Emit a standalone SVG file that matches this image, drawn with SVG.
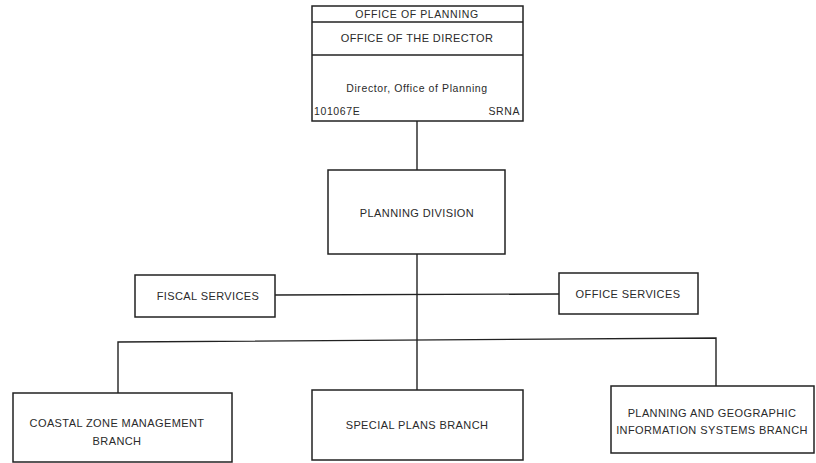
<svg xmlns="http://www.w3.org/2000/svg" width="816" height="463" viewBox="0 0 816 463">
<style>
.box{fill:#fff;stroke:#222;stroke-width:1.5}
.ln{fill:none;stroke:#222;stroke-width:1.4}
text{font-family:"Liberation Sans",Arial,sans-serif;fill:#2a2a2a;text-anchor:middle;dominant-baseline:central}
.t{font-size:11px;letter-spacing:0.4px}
.s{font-size:10.5px;letter-spacing:0.6px}
</style>
<rect width="816" height="463" fill="#fff"/>
<g id="connectors">
<line class="ln" x1="417" y1="121" x2="417" y2="170"/>
<line class="ln" x1="417" y1="254" x2="417" y2="390"/>
<line class="ln" x1="275" y1="295" x2="559" y2="294"/>
<polyline class="ln" points="118,393 118,342 716,338 716,386"/>
</g>
<g id="office-of-planning">
<rect class="box" x="312" y="6" width="211" height="115"/>
<line class="ln" x1="312" y1="22" x2="523" y2="22"/>
<line class="ln" x1="312" y1="55" x2="523" y2="55"/>
<text class="s" x="417" y="14">OFFICE OF PLANNING</text>
<text class="t" x="417" y="38">OFFICE OF THE DIRECTOR</text>
<text class="s" x="417" y="88">Director, Office of Planning</text>
<text class="s" x="314" y="111" style="text-anchor:start">101067E</text>
<text class="s" x="520" y="111" style="text-anchor:end">SRNA</text>
</g>
<g id="planning-division">
<rect class="box" x="328" y="170" width="177" height="84"/>
<text class="t" x="417" y="213">PLANNING DIVISION</text>
</g>
<g id="fiscal-services">
<rect class="box" x="135" y="275" width="140" height="42"/>
<text class="t" x="208" y="296">FISCAL SERVICES</text>
</g>
<g id="office-services">
<rect class="box" x="559" y="273" width="139" height="41"/>
<text class="t" x="628" y="294">OFFICE SERVICES</text>
</g>
<g id="coastal-zone">
<rect class="box" x="13" y="393" width="219" height="69"/>
<text class="t" x="117" y="423">COASTAL ZONE MANAGEMENT</text>
<text class="t" x="117" y="441">BRANCH</text>
</g>
<g id="special-plans">
<rect class="box" x="312" y="390" width="211" height="70"/>
<text class="t" x="417" y="425">SPECIAL PLANS BRANCH</text>
</g>
<g id="planning-gis">
<rect class="box" x="611" y="386" width="203" height="67"/>
<text class="t" x="712" y="413">PLANNING AND GEOGRAPHIC</text>
<text class="t" x="712" y="430">INFORMATION SYSTEMS BRANCH</text>
</g>
</svg>
